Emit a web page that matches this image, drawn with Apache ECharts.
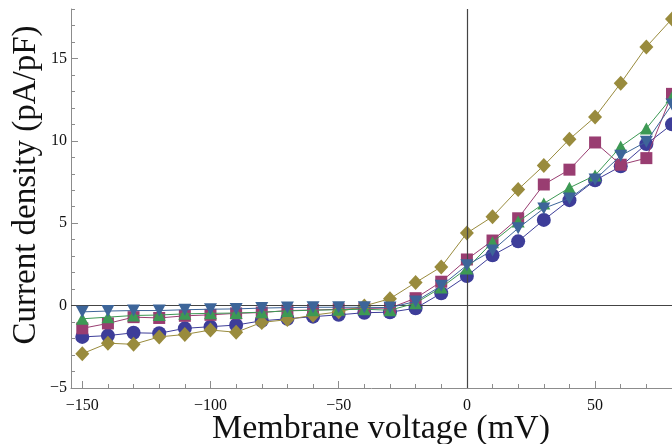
<!DOCTYPE html>
<html>
<head>
<meta charset="utf-8">
<script src="https://cdn.jsdelivr.net/npm/echarts@6/dist/echarts.min.js"></script>
<style>
html,body{margin:0;padding:0;background:#fff;}
#chart{width:672px;height:444px;}
</style>
</head>
<body>
<div id="chart"></div>
<script>
// Membrane voltage (mV)
var voltage = [-150,-140,-130,-120,-110,-100,-90,-80,-70,-60,-50,-40,-30,-20,-10,0,10,20,30,40,50,60,70,80];
// Current density (pA/pF) per series
var seriesCircle = [-1.9,-1.82,-1.65,-1.68,-1.38,-1.28,-1.18,-0.92,-0.8,-0.67,-0.56,-0.43,-0.4,-0.16,0.75,1.8,3.05,3.9,5.2,6.4,7.6,8.45,9.8,11.0];
var seriesSquare = [-1.38,-1.08,-0.7,-0.75,-0.62,-0.56,-0.47,-0.42,-0.3,-0.27,-0.22,-0.17,-0.15,0.45,1.45,2.8,3.95,5.3,7.35,8.25,9.9,8.55,8.95,12.85];
var seriesDiamond = [-2.92,-2.28,-2.35,-1.9,-1.75,-1.48,-1.62,-1.02,-0.85,-0.58,-0.38,-0.02,0.42,1.4,2.35,4.4,5.4,7.05,8.5,10.1,11.45,13.5,15.7,17.4];
var seriesTriUp = [-0.8,-0.7,-0.6,-0.57,-0.5,-0.47,-0.45,-0.4,-0.32,-0.28,-0.25,-0.22,-0.28,0.15,1.1,2.25,3.85,5.1,6.2,7.15,7.9,9.65,10.75,12.65];
var seriesTriDown = [-0.38,-0.33,-0.3,-0.3,-0.25,-0.22,-0.2,-0.15,-0.12,-0.1,-0.1,-0.1,-0.12,0.25,1.2,2.45,3.35,4.7,5.9,6.5,7.65,9.1,9.95,12.2];

var xMajorTicks = [-150,-100,-50,0,50];
var xMinorTicks = [-150,-140,-130,-120,-110,-100,-90,-80,-70,-60,-50,-40,-30,-20,-10,0,10,20,30,40,50,60,70,80];
var yMajorTicks = [-5,0,5,10,15];
var yMinorTicks = [-5,-4,-3,-2,-1,0,1,2,3,4,5,6,7,8,9,10,11,12,13,14,15,16,17,18];

var xTitle = 'Membrane voltage (mV)';
var yTitle = 'Current density (pA/pF)';

function pairs(ys){ return voltage.map(function(v,i){ return [v, ys[i]]; }); }
function fmt(v){ return v < 0 ? '\u2212' + Math.abs(v) : String(v); }

var axisGray = '#8c8c8c';
var serif = '"Liberation Serif", "DejaVu Serif", serif';
var XMIN = -154.4, XMAX = 80, YMIN = -5, YMAX = 18;

var defs = [
  {name:'circle', data: seriesCircle, color:'#3d3d99', symbol:'circle', size:14, rot:0},
  {name:'square', data: seriesSquare, color:'#993d71', symbol:'rect', size:12, rot:0},
  {name:'diamond', data: seriesDiamond, color:'#998b3d', symbol:'diamond', size:[14,15], rot:0},
  {name:'triangle up', data: seriesTriUp, color:'#3d9954', symbol:'triangle', size:[13,12], rot:0},
  {name:'triangle down', data: seriesTriDown, color:'#3d6599', symbol:'triangle', size:[13,12], rot:180}
];

var series = [{
  type:'line', data:[], xAxisIndex:0, yAxisIndex:0, z:1, silent:true,
  markLine:{
    silent:true, symbol:'none', animation:false,
    label:{show:false},
    lineStyle:{color:'#444', type:'solid', width:1.2},
    data:[{xAxis:0},{yAxis:0}]
  }
}];
defs.forEach(function(d, i){
  series.push({
    type:'line', name:d.name, data: pairs(d.data), xAxisIndex:0, yAxisIndex:0,
    symbol:d.symbol, symbolSize:d.size, symbolRotate:d.rot, showAllSymbol:true,
    z: 2 + i, clip:false,
    lineStyle:{color:d.color, width:1},
    itemStyle:{color:d.color, opacity:1},
    animation:false
  });
});

var chart = echarts.init(document.getElementById('chart'), null, {renderer:'canvas'});
chart.setOption({
  animation:false,
  backgroundColor:'#ffffff',
  grid:{left:71, right:0, top:9, bottom:56, containLabel:false},
  xAxis:[
    {type:'value', min:XMIN, max:XMAX, position:'bottom',
     axisLine:{show:true, onZero:false, lineStyle:{color:axisGray, width:1}},
     axisTick:{show:true, inside:true, length:4, customValues:xMinorTicks, lineStyle:{color:axisGray}},
     axisLabel:{show:false}, splitLine:{show:false}},
    {type:'value', min:XMIN, max:XMAX, position:'bottom', offset:0,
     axisLine:{show:false, onZero:false},
     axisTick:{show:true, inside:true, length:7, customValues:xMajorTicks, lineStyle:{color:axisGray}},
     axisLabel:{show:true, customValues:xMajorTicks, formatter:fmt, margin:10, color:'#111', fontFamily:serif, fontSize:16},
     splitLine:{show:false}}
  ],
  yAxis:[
    {type:'value', min:YMIN, max:YMAX, position:'left',
     axisLine:{show:true, onZero:false, lineStyle:{color:axisGray, width:1}},
     axisTick:{show:true, inside:true, length:4, customValues:yMinorTicks, lineStyle:{color:axisGray}},
     axisLabel:{show:false}, splitLine:{show:false}},
    {type:'value', min:YMIN, max:YMAX, position:'left', offset:0,
     axisLine:{show:false, onZero:false},
     axisTick:{show:true, inside:true, length:7, customValues:yMajorTicks, lineStyle:{color:axisGray}},
     axisLabel:{show:true, customValues:yMajorTicks, formatter:fmt, margin:4, color:'#111', fontFamily:serif, fontSize:16},
     splitLine:{show:false}}
  ],
  graphic:[
    {type:'text', x:381, y:429, silent:true,
     style:{text:xTitle, fontFamily:serif, fontSize:34, fill:'#111', align:'center', verticalAlign:'middle'}},
    {type:'text', x:26, y:185, rotation:Math.PI/2, silent:true,
     style:{text:yTitle, fontFamily:serif, fontSize:33, fill:'#111', align:'center', verticalAlign:'middle'}}
  ],
  series:series
});
</script>
</body>
</html>
